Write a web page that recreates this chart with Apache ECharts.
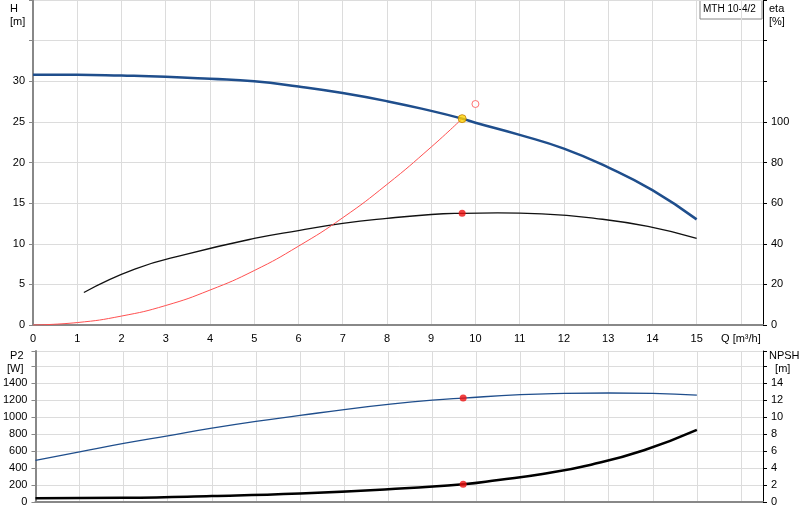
<!DOCTYPE html>
<html><head><meta charset="utf-8">
<script src="https://cdn.jsdelivr.net/npm/echarts@6/dist/echarts.min.js"></script>
<style>html,body{margin:0;padding:0;background:#fff}#c{width:800px;height:520px}</style>
</head><body><div id="c"></div>
<script>
const headQ = [0,1,2,3,4,5,6,7,8,9,9.7,10,11,12,13,14,15];
const headH = [30.8,30.8,30.7,30.55,30.3,30.0,29.35,28.55,27.55,26.35,25.4,24.9,23.4,21.7,19.4,16.6,13.0];
const etaQ = [1.15,2.3,3.5,5,6,7,8,9,9.7,10.5,11.5,12.7,13.9,15];
const etaV = [16,27.5,35,42.6,46.5,50,52.5,54.4,55,55.2,54.7,52.5,48.5,42.6];
const sysQ = [0,1,2,3,4,5,6,7,8,9,9.7];
const sysH = [0,0.3,1.1,2.4,4.3,6.7,9.7,13.2,17.3,21.9,25.4];
const p2Q = [0,1,2,3,4,5,6,7,8,9,9.7,11,12,13,14,15];
const p2V = [490,590,690,780,870,950,1020,1090,1150,1200,1225,1265,1280,1285,1280,1260];
const npQ = [0,2,4,6,8,9.7,10.5,11.5,12.6,13.8,15];
const npV = [0.45,0.5,0.7,1.0,1.5,2.1,2.6,3.3,4.4,6.1,8.5];
const dutyQ = 9.7, dutyH = 25.4, dutyEta = 55, dutyP2 = 1225, dutyNp = 2.1;
const reqQ = 10, reqH = 27.2;

const z = (a,b)=>a.map((v,i)=>[v,b[i]]);
const grid = {lineStyle:{color:'#dcdcdc',width:1}};
const lab = {color:'#000',fontSize:11,fontFamily:'Liberation Sans, Arial'};
const chart = echarts.init(document.getElementById('c'));
chart.setOption({
  animation:false,
  grid:[{left:33,right:37,top:0,height:325},{left:33,right:37,top:351,bottom:18}],
  xAxis:[
    {gridIndex:0,type:'value',min:0,max:16.5,interval:1,axisLine:{lineStyle:{color:'#888',width:2}},axisTick:{show:false},
     splitLine:grid,axisLabel:Object.assign({formatter:v=>v==16?'Q [m³/h]':(v>16?'':v)},lab)},
    {gridIndex:1,type:'value',min:0,max:16.5,interval:1,axisLine:{lineStyle:{color:'#888',width:2}},axisTick:{show:false},
     splitLine:grid,axisLabel:{show:false}}
  ],
  yAxis:[
    {gridIndex:0,min:0,max:40,interval:5,axisLine:{show:true,lineStyle:{color:'#888',width:2}},axisTick:{show:true,length:4},
     splitLine:grid,axisLabel:Object.assign({formatter:v=>v>30?'':v},lab)},
    {gridIndex:0,min:0,max:160,interval:20,position:'right',axisLine:{show:true,lineStyle:{color:'#000',width:1}},axisTick:{show:true,length:4},
     splitLine:{show:false},axisLabel:Object.assign({formatter:v=>v>100?'':v},lab)},
    {gridIndex:1,min:0,max:1780,interval:200,axisLine:{show:true,lineStyle:{color:'#888',width:2}},axisTick:{show:true,length:4},
     splitLine:grid,axisLabel:Object.assign({formatter:v=>v>1400?'':v},lab)},
    {gridIndex:1,min:0,max:17.8,interval:2,position:'right',axisLine:{show:true,lineStyle:{color:'#000',width:1}},axisTick:{show:true,length:4},
     splitLine:{show:false},axisLabel:Object.assign({formatter:v=>v>14?'':v},lab)}
  ],
  series:[
    {type:'line',xAxisIndex:0,yAxisIndex:0,data:z(headQ,headH),smooth:true,symbol:'none',lineStyle:{color:'#1f4e8c',width:2.5}},
    {type:'line',xAxisIndex:0,yAxisIndex:1,data:z(etaQ,etaV),smooth:true,symbol:'none',lineStyle:{color:'#111',width:1.3}},
    {type:'line',xAxisIndex:0,yAxisIndex:0,data:z(sysQ,sysH),smooth:true,symbol:'none',lineStyle:{color:'#ff5050',width:1}},
    {type:'scatter',xAxisIndex:0,yAxisIndex:0,data:[[dutyQ,dutyH]],symbolSize:8,itemStyle:{color:'#ffd200',borderColor:'#c08000',borderWidth:1},z:5},
    {type:'scatter',xAxisIndex:0,yAxisIndex:0,data:[[reqQ,reqH]],symbolSize:7,itemStyle:{color:'#fff',borderColor:'#ff5050',borderWidth:1}},
    {type:'scatter',xAxisIndex:0,yAxisIndex:1,data:[[dutyQ,dutyEta]],symbolSize:7,itemStyle:{color:'#ee1111'},z:5},
    {type:'line',xAxisIndex:1,yAxisIndex:2,data:z(p2Q,p2V),smooth:true,symbol:'none',lineStyle:{color:'#1f4e8c',width:1.3}},
    {type:'line',xAxisIndex:1,yAxisIndex:3,data:z(npQ,npV),smooth:true,symbol:'none',lineStyle:{color:'#000',width:2.5}},
    {type:'scatter',xAxisIndex:1,yAxisIndex:2,data:[[dutyQ,dutyP2]],symbolSize:7,itemStyle:{color:'#ee1111'},z:5},
    {type:'scatter',xAxisIndex:1,yAxisIndex:3,data:[[dutyQ,dutyNp]],symbolSize:7,itemStyle:{color:'#ee1111'},z:5}
  ],
  graphic:[
    {type:'text',left:10,top:2,style:{text:'H\n[m]',fill:'#000',font:'11px Liberation Sans',align:'center',lineHeight:13}},
    {type:'text',left:769,top:2,style:{text:'eta\n[%]',fill:'#000',font:'11px Liberation Sans',lineHeight:13}},
    {type:'text',left:7,top:349,style:{text:' P2\n[W]',fill:'#000',font:'11px Liberation Sans',lineHeight:13}},
    {type:'text',left:769,top:349,style:{text:'NPSH\n  [m]',fill:'#000',font:'11px Liberation Sans',lineHeight:13}},
    {type:'rect',shape:{x:700,y:0,width:62,height:19},style:{fill:'#fff',stroke:'#888',lineWidth:1}},
    {type:'text',left:703,top:4,style:{text:'MTH 10-4/2',fill:'#000',font:'10px Liberation Sans'}}
  ]
});
</script></body></html>
